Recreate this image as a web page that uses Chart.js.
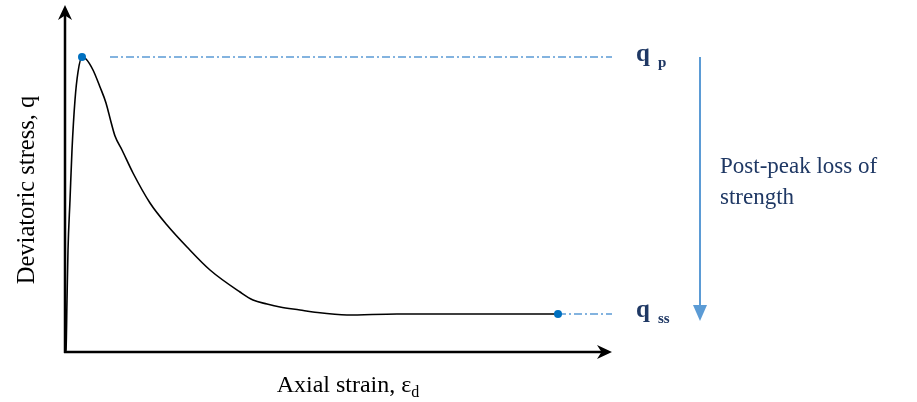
<!DOCTYPE html>
<html>
<head>
<meta charset="utf-8">
<script src="https://cdn.jsdelivr.net/npm/chart.js@4/dist/chart.umd.min.js"></script>
<style>
  html, body { margin: 0; padding: 0; background: #ffffff; }
  #wrap { width: 917px; height: 402px; }
</style>
</head>
<body>
<div id="wrap"><canvas id="c" width="917" height="402"></canvas></div>
<script>
// Axial strain (arbitrary units) and deviatoric stress (arbitrary units)
const strain = [0, 1, 2, 3, 5, 7, 10, 13, 17, 21, 28, 35, 41, 46, 50, 57, 68, 85, 102, 122, 145, 175, 188, 202, 215, 235, 248, 282, 332, 398, 493];
const stress = [0, 2, 52, 102, 152, 202, 252, 280, 295, 293, 282, 265, 249, 230, 216, 202, 179, 149, 127, 105, 82, 60, 52, 48, 45, 42, 40, 37, 38, 38, 38];
const peakPoint = { strain: 17, stress: 295 };
const steadyPoint = { strain: 493, stress: 38 };
const axisMax = { strain: 547, stress: 347 };
const refLineStart = { peak: 45, steady: 493 };
const labels = { xTitle: 'Axial strain, ε', xSub: 'd', yTitle: 'Deviatoric stress, q', qp: 'q', qpSub: 'p', qss: 'q', qssSub: 'ss', note1: 'Post-peak loss of', note2: 'strength' };

const curve = strain.map((s, i) => ({ x: s, y: stress[i] }));

const navy = '#1f3864';
const light = '#5b9bd5';
const dotBlue = '#0070c0';

function arrowHead(ctx, x, y, dir, len, half) {
  ctx.beginPath();
  if (dir === 'up') {
    ctx.moveTo(x, y);
    ctx.lineTo(x - half, y + len);
    ctx.lineTo(x, y + len * 0.7);
    ctx.lineTo(x + half, y + len);
  } else if (dir === 'right') {
    ctx.moveTo(x, y);
    ctx.lineTo(x - len, y - half);
    ctx.lineTo(x - len * 0.7, y);
    ctx.lineTo(x - len, y + half);
  } else {
    ctx.moveTo(x, y);
    ctx.lineTo(x - half, y - len);
    ctx.lineTo(x + half, y - len);
  }
  ctx.closePath();
  ctx.fill();
}

const decor = {
  id: 'decor',
  afterDatasetsDraw(chart) {
    const ctx = chart.ctx;
    const xs = chart.scales.x, ys = chart.scales.y;
    const x0 = xs.getPixelForValue(0), y0 = ys.getPixelForValue(0);
    const xEnd = xs.getPixelForValue(axisMax.strain), yEnd = ys.getPixelForValue(axisMax.stress);
    ctx.save();
    // axes
    ctx.strokeStyle = '#000';
    ctx.fillStyle = '#000';
    ctx.lineWidth = 2.5;
    ctx.beginPath();
    ctx.moveTo(x0, y0 + 1);
    ctx.lineTo(x0, yEnd + 8);
    ctx.moveTo(x0 - 1, y0);
    ctx.lineTo(xEnd - 8, y0);
    ctx.stroke();
    arrowHead(ctx, x0, yEnd, 'up', 15, 7);
    arrowHead(ctx, xEnd, y0, 'right', 15, 7);

    // axis titles
    ctx.fillStyle = '#000';
    ctx.textBaseline = 'alphabetic';
    ctx.font = '24px "Liberation Serif", "Times New Roman", serif';
    const mainW = ctx.measureText(labels.xTitle).width;
    ctx.font = '16px "Liberation Serif", serif';
    const subW = ctx.measureText(labels.xSub).width;
    const cx = 348;
    const startX = cx - (mainW + subW) / 2;
    ctx.font = '24px "Liberation Serif", "Times New Roman", serif';
    ctx.textAlign = 'left';
    ctx.fillText(labels.xTitle, startX, 392);
    ctx.font = '16px "Liberation Serif", serif';
    ctx.fillText(labels.xSub, startX + mainW, 397);

    ctx.save();
    ctx.translate(34, 190);
    ctx.rotate(-Math.PI / 2);
    ctx.font = '24.5px "Liberation Serif", "Times New Roman", serif';
    ctx.textAlign = 'center';
    ctx.fillText(labels.yTitle, 0, 0);
    ctx.restore();

    // q labels
    const yp = ys.getPixelForValue(peakPoint.stress);
    const yss = ys.getPixelForValue(steadyPoint.stress);
    ctx.fillStyle = navy;
    ctx.textAlign = 'left';
    ctx.font = 'bold 25px "Liberation Serif", serif';
    ctx.fillText(labels.qp, 636, yp + 4);
    ctx.fillText(labels.qss, 636, yss + 3);
    ctx.font = 'bold 15px "Liberation Serif", serif';
    ctx.fillText(labels.qpSub, 658, yp + 10);
    ctx.fillText(labels.qssSub, 658, yss + 9);

    // post-peak arrow
    ctx.strokeStyle = light;
    ctx.fillStyle = light;
    ctx.lineWidth = 2;
    ctx.beginPath();
    ctx.moveTo(700, yp);
    ctx.lineTo(700, yss - 8);
    ctx.stroke();
    arrowHead(ctx, 700, yss + 7, 'down', 16, 7);

    ctx.fillStyle = navy;
    ctx.font = '23px "Liberation Serif", "Times New Roman", serif';
    ctx.fillText(labels.note1, 720, 173);
    ctx.fillText(labels.note2, 720, 204);
    ctx.restore();
  }
};

new Chart(document.getElementById('c'), {
  type: 'scatter',
  data: {
    datasets: [
      {
        data: curve,
        showLine: true,
        borderColor: '#000',
        borderWidth: 1.6,
        pointRadius: 0,
        cubicInterpolationMode: 'monotone',
        order: 2
      },
      {
        data: [{ x: refLineStart.peak, y: peakPoint.stress }, { x: axisMax.strain, y: peakPoint.stress }],
        showLine: true,
        borderColor: light,
        borderWidth: 1.3,
        borderDash: [8, 3, 2, 3],
        pointRadius: 0,
        order: 3
      },
      {
        data: [{ x: refLineStart.steady, y: steadyPoint.stress }, { x: axisMax.strain, y: steadyPoint.stress }],
        showLine: true,
        borderColor: light,
        borderWidth: 1.3,
        borderDash: [8, 3, 2, 3],
        pointRadius: 0,
        order: 3
      },
      {
        data: [{ x: peakPoint.strain, y: peakPoint.stress }, { x: steadyPoint.strain, y: steadyPoint.stress }],
        showLine: false,
        pointRadius: 4,
        pointBackgroundColor: dotBlue,
        pointBorderWidth: 0,
        order: 1
      }
    ]
  },
  options: {
    responsive: false,
    animation: false,
    devicePixelRatio: 1,
    layout: { padding: { left: 65, right: 305, top: 5, bottom: 50 } },
    plugins: { legend: { display: false }, tooltip: { enabled: false } },
    scales: {
      x: { type: 'linear', min: 0, max: axisMax.strain, display: false },
      y: { type: 'linear', min: 0, max: axisMax.stress, display: false }
    }
  },
  plugins: [decor]
});
</script>
</body>
</html>
